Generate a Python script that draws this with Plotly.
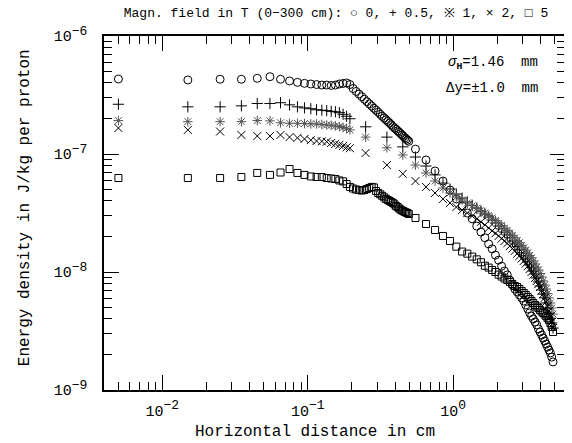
import plotly.graph_objects as go

# ---- x positions (cm) ----
x_fine_a = [0.005, 0.015, 0.025, 0.035, 0.045, 0.055, 0.065, 0.075, 0.085, 0.095,
            0.105, 0.115, 0.125, 0.135, 0.145, 0.155, 0.165, 0.175, 0.185, 0.195]
x_fine_b = [0.205, 0.215, 0.225, 0.235, 0.245, 0.255, 0.265, 0.275, 0.285, 0.295,
            0.305, 0.315, 0.325, 0.335, 0.345, 0.355, 0.365, 0.375, 0.385, 0.395,
            0.405, 0.415, 0.425, 0.435, 0.445, 0.455, 0.465, 0.475, 0.485, 0.495]
x_coarse_a = [0.25, 0.35, 0.45]
x_coarse_b = [0.55, 0.65, 0.75, 0.85, 0.95,
              1.05, 1.15, 1.25, 1.35, 1.45, 1.55, 1.65, 1.75, 1.85, 1.95,
              2.05, 2.15, 2.25, 2.35, 2.45, 2.55, 2.65, 2.75, 2.85, 2.95,
              3.05, 3.15, 3.25, 3.35, 3.45, 3.55, 3.65, 3.75, 3.85, 3.95,
              4.05, 4.15, 4.25, 4.35, 4.45, 4.55, 4.65, 4.75, 4.85]

# ---- energy density values, in units of 1e-9 J/kg per proton ----
b0_vals = [432, 424, 430, 430, 438, 452, 430, 416, 405, 397,
           392, 388, 384, 384, 381, 384, 392, 396, 400, 388,
           359, 339, 322, 306, 291, 278, 266, 255, 244, 235,
           226, 217, 209, 202, 195, 189, 183, 177, 171, 166,
           162, 157, 153, 149, 145, 141, 137, 134, 131, 128,
           110, 89.0, 71.8, 59.0, 49.5,
           41.6, 36.3, 31.6, 28.2, 24.5, 21.8, 19.5, 17.3, 15.7, 13.9,
           12.6, 11.2, 10.2, 9.45, 8.55, 7.76, 7.18, 6.77, 6.38, 6.03,
           5.68, 5.25, 4.86, 4.50, 4.22, 4.00, 3.77, 3.56, 3.29, 3.10,
           2.92, 2.76, 2.60, 2.45, 2.31, 2.18, 2.06, 1.90, 1.73]

b05_vals = [264, 251, 251, 256, 268, 268, 272, 261, 251, 246,
            242, 237, 235, 233, 230, 228, 224, 217, 209, 199,
            170, 139, 115,
            94.3, 79.1, 66.5, 56.7, 50.5,
            45.8, 42.3, 39.2, 36.8, 34.8, 32.8, 31.0, 29.2, 27.6, 26.0,
            24.5, 23.2, 21.8, 20.6, 19.5, 18.3, 17.3, 16.4, 15.4, 14.5,
            13.7, 12.9, 12.2, 11.5, 10.9, 10.2, 9.64, 8.91, 8.23, 7.61,
            7.04, 6.50, 6.03, 5.46, 4.95, 4.47, 4.06, 3.70, 3.35]

b1_vals = [192, 188, 188, 188, 192, 191, 184, 182, 182, 181,
           180, 180, 178, 176, 175, 173, 171, 168, 165, 160,
           139, 113, 98.1,
           80.6, 69.1, 59.0, 51.5, 46.7,
           43.2, 40.8, 38.5, 36.5, 34.8, 33.2, 31.6, 30.1, 28.7, 27.3,
           26.0, 24.8, 23.6, 22.5, 21.4, 20.4, 19.5, 18.5, 17.7, 16.8,
           16.0, 15.3, 14.5, 13.8, 13.2, 12.4, 11.7, 11.0, 10.4, 9.71,
           9.07, 8.39, 7.76, 7.18, 6.57, 6.03, 5.46, 4.95, 4.40]

b2_vals = [166, 160, 155, 145, 142, 142, 145, 139, 137, 134,
           131, 129, 128, 127, 124, 122, 119.5, 117, 114, 112,
           102, 80.6, 67.9,
           59.0, 52.6, 46.7, 41.6, 38.5,
           35.5, 33.5, 31.6, 29.8, 28.2, 26.6, 25.1, 23.6, 22.3, 21.3,
           20.2, 19.2, 18.3, 17.5, 16.6, 15.8, 15.1, 14.3, 13.7, 13.0,
           12.4, 11.8, 11.2, 10.6, 10.0, 9.45, 8.91, 8.39, 7.91, 7.46,
           6.97, 6.50, 6.03, 5.57, 5.15, 4.67, 4.22, 3.77, 3.35]

b5_vals = [62.6, 62.6, 62.6, 63.8, 69.1, 66.5, 69.7, 74.6, 69.1, 66.5,
           64.5, 63.8, 63.8, 62.6, 62.0, 61.4, 59.7, 58.6, 55.7, 52.6,
           51.0, 50.0, 49.5, 49.0, 49.5, 50.5, 51.5, 52.6, 52.1, 48.6,
           46.7, 45.5, 44.2, 42.9, 41.6, 40.8, 40.0, 39.2, 38.5, 37.4,
           36.2, 35.5, 34.5, 33.8, 33.2, 32.8, 32.2, 31.9, 31.6, 31.0,
           28.7, 25.5, 22.7, 20.2, 18.3,
           16.4, 14.9, 14.3, 13.5, 12.8, 12.1, 11.3, 10.9, 10.4, 10.0,
           9.50, 9.15, 8.80, 8.55, 8.23, 7.91, 7.61, 7.46, 7.18, 6.90,
           6.64, 6.39, 6.14, 5.90, 5.68, 5.46, 5.25, 5.10, 4.95, 4.76,
           4.62, 4.50, 4.37, 4.22, 4.06, 3.92, 3.70, 3.42, 3.10]

UNIT = 1e-9

x_tickvals = [0.01, 0.1, 1]
x_exponents = ["\u22122", "\u22121", "0"]
y_tickvals = [1e-9, 1e-8, 1e-7, 1e-6]
y_exponents = ["\u22129", "\u22128", "\u22127", "\u22126"]


def power_label(e):
    return "10<sup><span style='font-size:13px'>" + e + "</span></sup>"


x_dense = x_fine_a + x_fine_b + x_coarse_b
x_sparse = x_fine_a + x_coarse_a + x_coarse_b

series = [
    ("0 T", x_dense, b0_vals, "circle-open", 8, "black"),
    ("0.5 T", x_sparse, b05_vals, "cross-thin-open", 8, "black"),
    ("1 T", x_sparse, b1_vals, "asterisk-open", 8, "#555555"),
    ("2 T", x_sparse, b2_vals, "x-thin-open", 8, "black"),
    ("5 T", x_dense, b5_vals, "square-open", 7, "black"),
]

fig = go.Figure()
for name, xs, vals, sym, size, col in series:
    fig.add_trace(go.Scatter(
        x=xs, y=[v * UNIT for v in vals], mode="markers", name=name,
        marker=dict(symbol=sym, size=size, color=col,
                    line=dict(color=col, width=1)),
    ))

MONO = "Liberation Mono"

axis_common = dict(
    type="log", showgrid=False, zeroline=False, automargin=False,
    showline=True, linecolor="black", linewidth=1.5, mirror="ticks",
    ticks="inside", ticklen=15, tickwidth=1.2, tickcolor="black",
    tickfont=dict(family=MONO, size=15, color="black"),
    minor=dict(ticks="inside", ticklen=8, tickwidth=1, tickcolor="black",
               dtick="D1", showgrid=False),
)

fig.update_xaxes(**axis_common, range=[-2.40, 0.768],
                 tickvals=x_tickvals, ticktext=[power_label(e) for e in x_exponents],
                 ticklabelstandoff=6)
fig.update_yaxes(**axis_common, range=[-9, -6],
                 tickvals=y_tickvals, ticktext=[power_label(e) for e in y_exponents],
                 ticklabelstandoff=12)

# the page body adds an 8 px offset, so the figure is sized/margined to compensate
fig.update_layout(
    width=564, height=435,
    margin=dict(l=96, r=7, t=28, b=53),
    paper_bgcolor="white", plot_bgcolor="white",
    showlegend=False,
    title=dict(text="Magn. field in T (0\u2212300 cm): \u25cb 0, + 0.5, \u203b 1, \u00d7 2, \u25a1 5",
               x=(336 - 8) / 564, xanchor="center", y=(435 - 4) / 435, yanchor="middle",
               font=dict(family=MONO, size=13, color="black")),
    annotations=[
        dict(text="<i>\u03c3</i><sub><b>H</b></sub>=1.46\u00a0\u00a0mm", xref="paper", yref="paper",
             x=0.946, y=0.924, xanchor="right", yanchor="middle", showarrow=False,
             font=dict(family=MONO, size=14, color="black")),
        dict(text="\u0394y=\u00b11.0\u00a0\u00a0mm", xref="paper", yref="paper",
             x=0.946, y=0.853, xanchor="right", yanchor="middle", showarrow=False,
             font=dict(family=MONO, size=14, color="black")),
        dict(text="Horizontal distance in cm", xref="paper", yref="paper",
             x=0.458, y=-0.119, xanchor="center", yanchor="middle", showarrow=False,
             font=dict(family=MONO, size=16, color="black")),
        dict(text="Energy density in J/kg per proton", xref="paper", yref="paper",
             x=-0.171, y=0.514, xanchor="center", yanchor="middle", showarrow=False,
             textangle=-90, font=dict(family=MONO, size=16, color="black")),
    ],
)

fig.write_html("out.html")
